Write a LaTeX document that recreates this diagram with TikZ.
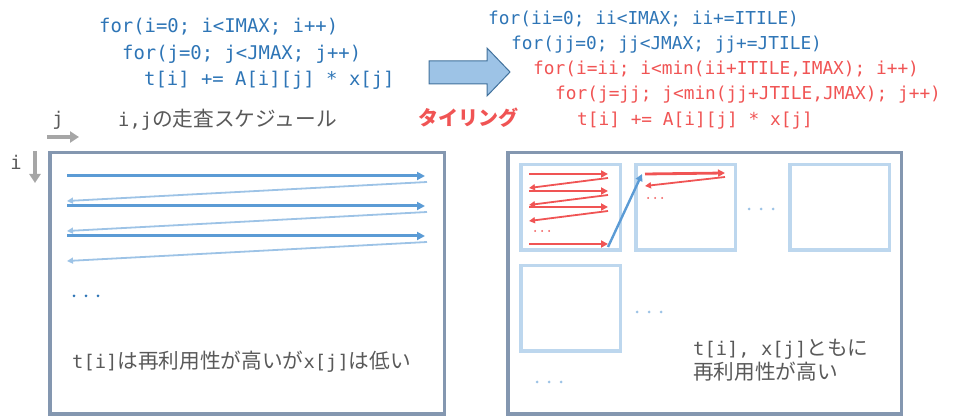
\documentclass[tikz,border=0pt]{standalone}
\usepackage{fontspec}
\setmonofont{DejaVu Sans Mono}
\newfontfamily\jpfont[Scale=1.1]{Noto Sans CJK JP}
\usetikzlibrary{arrows.meta,positioning}

\definecolor{codeblue}{HTML}{2E75B6}
\definecolor{codered}{HTML}{F05454}
\definecolor{textgray}{HTML}{595959}
\definecolor{axisgray}{HTML}{A6A6A6}
\definecolor{boxgray}{HTML}{8497B0}
\definecolor{tileblue}{HTML}{BDD7EE}
\definecolor{rowblue}{HTML}{5B9BD5}
\definecolor{backblue}{HTML}{9DC3E6}
\definecolor{arrowedge}{HTML}{41719C}

\begin{document}
\begin{tikzpicture}[x=1pt,y=-1pt,
  code/.style={anchor=base west,inner sep=0pt,text=codeblue,
    font=\ttfamily\fontsize{18.9}{22}\selectfont},
  tilecode/.style={code,font=\ttfamily\fontsize{17.8}{21}\selectfont},
  note/.style={anchor=base west,inner sep=0pt,text=textgray,
    font=\fontsize{18.8}{24}\selectfont},
  bigbox/.style={draw=boxgray,line width=3.5pt,anchor=north west},
  tile/.style={draw=tileblue,line width=3.5pt,minimum width=99.5pt,minimum height=85.5pt},
  axis/.style={draw=axisgray,line width=3.5pt,-{Triangle[length=9pt,width=11pt]}},
  rowarrow/.style={draw=rowblue,line width=3pt,-{Triangle[length=8pt,width=8pt]}},
  backarrow/.style={draw=backblue,line width=1.8pt,-{Triangle[length=6pt,width=6pt]}},
  redarrow/.style={draw=codered,line width=2.8pt,-{Triangle[length=7pt,width=7pt]}},
  redback/.style={draw=codered,line width=1.8pt,-{Triangle[length=6pt,width=6pt]}},
  jumparrow/.style={draw=rowblue,line width=2.4pt,-{Triangle[length=7pt,width=7pt]}}]
  \useasboundingbox (0,0) rectangle (978,419);

  % original loop nest
  \node[code] (loopi) at (99,33) {for(i=0; i<IMAX; i++)};
  \node[code] (loopj) at (122,60) {for(j=0; j<JMAX; j++)};
  \node[code] (body) at (144,86) {t[i] += A[i][j] * x[j]};

  % tiled loop nest
  \node[tilecode] (loopii) at (488,25) {for(ii=0; ii<IMAX; ii+=ITILE)};
  \node[tilecode] (loopjj) at (511,50) {for(jj=0; jj<JMAX; jj+=JTILE)};
  \node[tilecode,text=codered] (inneri) at (533,75) {for(i=ii; i<min(ii+ITILE,IMAX); i++)};
  \node[tilecode,text=codered] (innerj) at (555,100) {for(j=jj; j<min(jj+JTILE,JMAX); j++)};
  \node[tilecode,text=codered] (tilebody) at (577,126) {t[i] += A[i][j] * x[j]};

  % transform arrow
  \draw[fill=backblue,draw=arrowedge,line width=1pt]
    (429,61) -- (487,61) -- (487,48) -- (510,72) -- (487,96) -- (487,84) -- (429,84) -- cycle;
  \node[anchor=base west,inner sep=0pt,text=codered,
    font=\jpfont\bfseries\fontsize{18.2}{24}\selectfont] (tiling) at (418,126) {タイリング};

  % scan order, left
  \node[note] (scantitle) at (118,127) {{\ttfamily i,j}{\jpfont の走査スケジュール}};
  \node[note,anchor=base] (jlabel) at (58,126) {\ttfamily j};
  \node[note,anchor=base] (ilabel) at (16,170) {\ttfamily i};
  \draw[axis] (47,137) -- (79,137);
  \draw[axis] (35,151) -- (35,183);

  \node[bigbox,minimum width=394.5pt,minimum height=261.5pt] (scan) at (48,151) {};
  \foreach \y in {176,206,236} {
    \draw[rowarrow] (67,\y) -- (425,\y);
    \draw[backarrow] (427,\y+6) -- (67,\y+25);
  }
  \foreach \x in {74,86,98}
    \fill[codeblue] (\x,296) circle (1.5pt);
  \node[note] (scannote) at (72,369)
    {{\ttfamily t[i]}{\jpfont は再利用性が高いが}{\ttfamily x[j]}{\jpfont は低い}};

  % tiled scan, right
  \node[bigbox,minimum width=393.5pt,minimum height=261.5pt] (tiled) at (506,151) {};
  \node[tile,anchor=north west] (t11) at (519,163) {};
  \node[tile,right=12pt of t11] (t12) {};
  \node[tile,right=51pt of t12] (t13) {};
  \node[tile,below=12pt of t11] (t21) {};

  \foreach \y in {174,191,207} {
    \draw[redarrow] (529,\y) -- (608,\y);
    \draw[redback] (608,\y+4) -- (529,\y+14);
  }
  \foreach \x in {535,542,549}
    \fill[codered] (\x,231) circle (1pt);
  \draw[redarrow] (529,244) -- (608,244);

  \coordinate (tilejump) at (608,247);
  \coordinate (tilenext) at (642,174);
  \draw[jumparrow] (tilejump) -- (tilenext);

  \draw[redarrow] (645,174) -- (725,173);
  \draw[redback] (725,177) -- (645,186);
  \foreach \x in {648,655,662}
    \fill[codered] (\x,198) circle (1pt);

  \foreach \x in {749,761,773}
    \fill[backblue] (\x,209) circle (1.5pt);
  \foreach \x in {637,649,661}
    \fill[backblue] (\x,312) circle (1.5pt);
  \foreach \x in {537,549,561}
    \fill[backblue] (\x,382) circle (1.5pt);

  \node[note] (tilenote1) at (693,356) {{\ttfamily t[i], x[j]}{\jpfont ともに}};
  \node[note] (tilenote2) at (693,380) {\jpfont 再利用性が高い};
\end{tikzpicture}
\end{document}
